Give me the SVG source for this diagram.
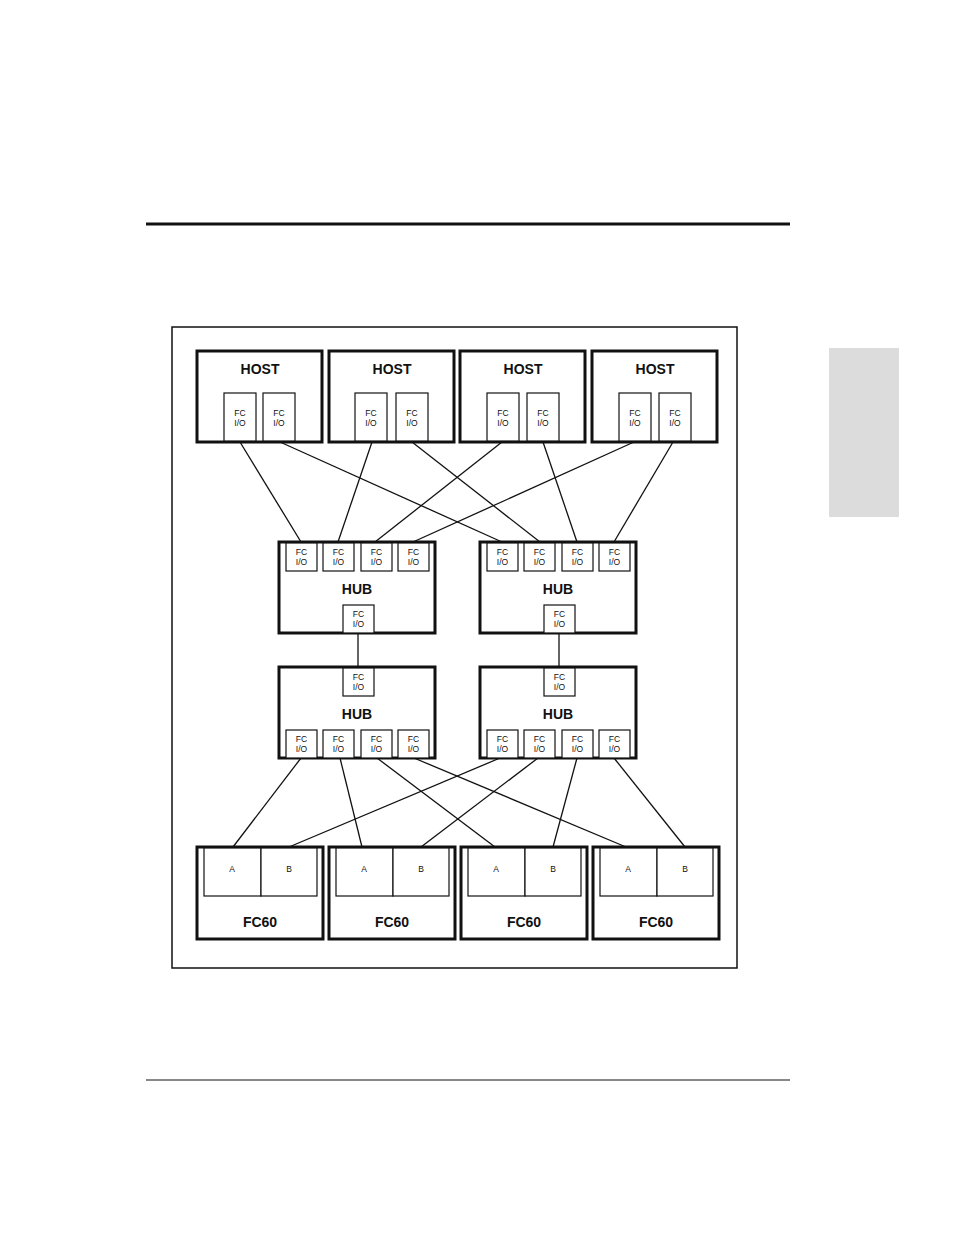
<svg xmlns="http://www.w3.org/2000/svg" width="954" height="1235" viewBox="0 0 954 1235">
<style>
.n{fill:#fff;stroke:#111;stroke-width:3}
.p{fill:#fff;stroke:#111;stroke-width:1.2}
.t{font-family:"Liberation Sans Narrow","Liberation Sans",sans-serif;font-weight:bold;font-size:14px;text-anchor:middle;fill:#111}
.s{font-family:"Liberation Sans Narrow","Liberation Sans",sans-serif;font-size:8.5px;text-anchor:middle;fill:#111}
.c line{stroke:#111;stroke-width:1.3}
</style>
<rect width="954" height="1235" fill="#fff"/>
<line x1="146" y1="224" x2="790" y2="224" stroke="#111" stroke-width="3"/>
<line x1="146" y1="1080" x2="790" y2="1080" stroke="#111" stroke-width="1"/>
<rect x="829" y="348" width="70" height="169" fill="#dcdcdc"/>
<rect x="172" y="327" width="565" height="641" fill="none" stroke="#111" stroke-width="1.5"/>
<defs>
<g id="fc"><rect class="p" x="0" y="0" width="31" height="28"/><text class="s" x="15.5" y="12">FC</text><text class="s" x="15.5" y="22">I/O</text></g>
<g id="fch"><rect class="p" x="0" y="0" width="32" height="48"/><text class="s" x="16" y="23">FC</text><text class="s" x="16" y="33">I/O</text></g>
</defs>
<g class="c">
<line x1="240" y1="442" x2="301" y2="542"/><line x1="280" y1="442" x2="502" y2="542"/>
<line x1="372" y1="442" x2="338" y2="542"/><line x1="412" y1="442" x2="540" y2="542"/>
<line x1="502" y1="442" x2="375" y2="542"/><line x1="543" y1="442" x2="577" y2="542"/>
<line x1="634" y1="442" x2="413" y2="542"/><line x1="673" y1="442" x2="614" y2="542"/>
<line x1="358" y1="633" x2="358" y2="667"/><line x1="559" y1="633" x2="559" y2="667"/>
<line x1="301" y1="758" x2="233" y2="847"/><line x1="340" y1="758" x2="362" y2="847"/>
<line x1="377" y1="758" x2="495" y2="847"/><line x1="414" y1="758" x2="626" y2="847"/>
<line x1="500" y1="758" x2="289" y2="847"/><line x1="538" y1="758" x2="421" y2="847"/>
<line x1="577" y1="758" x2="553" y2="847"/><line x1="614" y1="758" x2="685" y2="847"/>
</g>
<g id="host1"><rect class="n" x="197" y="351" width="125" height="91"/><text class="t" x="260" y="374">HOST</text><use href="#fch" x="224" y="393"/><use href="#fch" x="263" y="393"/></g>
<g id="host2"><rect class="n" x="329" y="351" width="125" height="91"/><text class="t" x="392" y="374">HOST</text><use href="#fch" x="355" y="393"/><use href="#fch" x="396" y="393"/></g>
<g id="host3"><rect class="n" x="460" y="351" width="125" height="91"/><text class="t" x="523" y="374">HOST</text><use href="#fch" x="487" y="393"/><use href="#fch" x="527" y="393"/></g>
<g id="host4"><rect class="n" x="592" y="351" width="125" height="91"/><text class="t" x="655" y="374">HOST</text><use href="#fch" x="619" y="393"/><use href="#fch" x="659" y="393"/></g>
<g id="hub1"><rect class="n" x="279" y="542" width="156" height="91"/><text class="t" x="357" y="594">HUB</text><use href="#fc" x="286" y="543"/><use href="#fc" x="323" y="543"/><use href="#fc" x="361" y="543"/><use href="#fc" x="398" y="543"/><use href="#fc" x="343" y="605"/></g>
<g id="hub2"><rect class="n" x="480" y="542" width="156" height="91"/><text class="t" x="558" y="594">HUB</text><use href="#fc" x="487" y="543"/><use href="#fc" x="524" y="543"/><use href="#fc" x="562" y="543"/><use href="#fc" x="599" y="543"/><use href="#fc" x="544" y="605"/></g>
<g id="hub3"><rect class="n" x="279" y="667" width="156" height="91"/><text class="t" x="357" y="719">HUB</text><use href="#fc" x="343" y="668"/><use href="#fc" x="286" y="730"/><use href="#fc" x="323" y="730"/><use href="#fc" x="361" y="730"/><use href="#fc" x="398" y="730"/></g>
<g id="hub4"><rect class="n" x="480" y="667" width="156" height="91"/><text class="t" x="558" y="719">HUB</text><use href="#fc" x="544" y="668"/><use href="#fc" x="487" y="730"/><use href="#fc" x="524" y="730"/><use href="#fc" x="562" y="730"/><use href="#fc" x="599" y="730"/></g>
<g id="fc60a"><rect class="n" x="197" y="847" width="126" height="92"/><rect class="p" x="204" y="848" width="57" height="48"/><rect class="p" x="261" y="848" width="56" height="48"/><text class="s" x="232" y="872">A</text><text class="s" x="289" y="872">B</text><text class="t" x="260" y="927">FC60</text></g>
<g id="fc60b"><rect class="n" x="329" y="847" width="126" height="92"/><rect class="p" x="336" y="848" width="57" height="48"/><rect class="p" x="393" y="848" width="56" height="48"/><text class="s" x="364" y="872">A</text><text class="s" x="421" y="872">B</text><text class="t" x="392" y="927">FC60</text></g>
<g id="fc60c"><rect class="n" x="461" y="847" width="126" height="92"/><rect class="p" x="468" y="848" width="57" height="48"/><rect class="p" x="525" y="848" width="56" height="48"/><text class="s" x="496" y="872">A</text><text class="s" x="553" y="872">B</text><text class="t" x="524" y="927">FC60</text></g>
<g id="fc60d"><rect class="n" x="593" y="847" width="126" height="92"/><rect class="p" x="600" y="848" width="57" height="48"/><rect class="p" x="657" y="848" width="56" height="48"/><text class="s" x="628" y="872">A</text><text class="s" x="685" y="872">B</text><text class="t" x="656" y="927">FC60</text></g>
</svg>
